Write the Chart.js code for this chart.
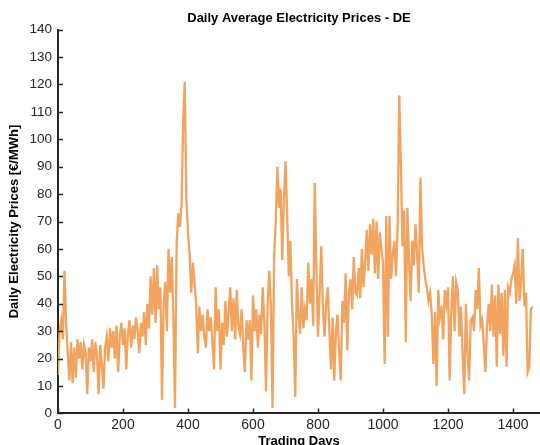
<!DOCTYPE html>
<html>
<head>
<meta charset="utf-8">
<title>Daily Average Electricity Prices - DE</title>
<script src="https://cdn.jsdelivr.net/npm/chart.js@4"></script>
<style>
  html, body { margin: 0; padding: 0; background: #fff; }
  #priceChart { display: block; }
</style>
</head>
<body>
<canvas id="priceChart" width="540" height="445"></canvas>
<script>
const dayStep = 5;
const prices = [
    14, 30, 34, 27, 52, 33, 22, 12, 26, 11,
    24, 13, 27, 20, 26, 16, 25, 22, 7, 24,
    19, 27, 15, 26, 21, 7, 25, 18, 9, 24,
    28, 19, 31, 24, 30, 20, 32, 15, 28, 33,
    25, 31, 16, 29, 34, 24, 32, 27, 35, 30,
    22, 33, 28, 37, 25, 40, 31, 50, 36, 53,
    33, 54, 38, 46, 5, 40, 48, 30, 60, 44,
    57, 35, 2, 62, 73, 68, 76, 106, 121, 78,
    66, 58, 44, 55, 48, 40, 22, 39, 30, 36,
    28, 24, 38, 30, 35, 26, 16, 46, 30, 38,
    16, 33, 25, 41, 28, 37, 46, 30, 42, 27,
    45, 32, 29, 38, 24, 15, 34, 27, 34, 12,
    43, 30, 38, 24, 36, 29, 46, 33, 8, 40,
    52, 39, 2, 57, 70, 90, 75, 82, 56, 78,
    92, 73, 50, 63, 40, 28, 6, 49, 36, 29,
    46, 31, 38, 34, 55, 40, 49, 32, 84, 53,
    28, 44, 61, 38, 28, 40, 46, 30, 16, 35,
    12, 30, 36, 22, 12, 41, 33, 51, 23, 44,
    49, 38, 57, 44, 43, 53, 42, 60, 46, 55,
    67, 52, 69, 58, 71, 51, 70, 49, 66, 60,
    55, 18, 72, 28, 72, 49, 58, 63, 50, 68,
    116, 90, 61, 74, 26, 75, 56, 41, 63, 54,
    69, 58, 44, 86, 61, 54, 49, 46, 41, 44,
    36, 18, 37, 10, 45, 35, 39, 27, 45, 40,
    46, 12, 37, 50, 30, 48, 45, 28, 39, 21,
    7, 40, 22, 12, 34, 35, 30, 45, 38, 53,
    32, 34, 25, 15, 32, 40, 30, 47, 28, 43,
    17, 47, 29, 44, 21, 45, 17, 46, 44, 49,
    51, 54, 40, 64, 41, 49, 60, 39, 44, 15,
    17, 38, 39
];
const dayTicks = [0, 200, 400, 600, 800, 1000, 1200, 1400];
const priceTicks = [0, 10, 20, 30, 40, 50, 60, 70, 80, 90, 100, 110, 120, 130, 140];

const axisColor = '#262626';
const fontFamily = '"Liberation Sans", Arial, Helvetica, sans-serif';

// matlab-style ticks pointing into the plot
const inwardTicks = {
    id: 'inwardTicks',
    afterDraw(chart) {
        const { ctx, chartArea, scales } = chart;
        ctx.save();
        ctx.strokeStyle = axisColor;
        ctx.lineWidth = 1.5;
        ctx.beginPath();
        scales.y.ticks.forEach(t => {
            const py = Math.round(scales.y.getPixelForValue(t.value)) + 0.5;
            ctx.moveTo(chartArea.left, py);
            ctx.lineTo(chartArea.left + 5, py);
        });
        scales.x.ticks.forEach(t => {
            const px = Math.round(scales.x.getPixelForValue(t.value)) + 0.5;
            ctx.moveTo(px, chartArea.bottom);
            ctx.lineTo(px, chartArea.bottom - 5);
        });
        ctx.stroke();
        ctx.restore();
    }
};

const ctx = document.getElementById('priceChart').getContext('2d');

const priceChart = new Chart(ctx, {
    type: 'line',
    data: {
        datasets: [{
            label: 'DE',
            data: prices.map((p, i) => ({ x: i * dayStep, y: p })),
            borderColor: 'rgb(242, 163, 94)',
            borderWidth: 2.3,
            pointRadius: 0,
            tension: 0,
            fill: false
        }]
    },
    options: {
        responsive: false,
        animation: false,
        layout: { padding: 0 },
        plugins: {
            legend: { display: false },
            tooltip: { enabled: false },
            title: {
                display: true,
                text: 'Daily Average Electricity Prices - DE',
                color: '#000',
                fullSize: false,
                font: { family: fontFamily, size: 13, weight: 'bold' },
                padding: { top: 11, bottom: 3 }
            }
        },
        scales: {
            x: {
                type: 'linear',
                min: 0,
                max: 1483,
                afterBuildTicks: function(scale) {
                    scale.ticks = dayTicks.map(v => ({ value: v }));
                },
                afterFit: function(scale) {
                    scale.height = 31.6;
                },
                grid: { display: false, drawTicks: false },
                border: { display: true, color: axisColor, width: 2 },
                ticks: {
                    color: axisColor,
                    padding: 3,
                    maxRotation: 0,
                    font: { family: fontFamily, size: 14 },
                    callback: function(value) {
                        return String(value);
                    }
                },
                title: {
                    display: true,
                    text: 'Trading Days',
                    color: '#000',
                    font: { family: fontFamily, size: 13, weight: 'bold' },
                    padding: { top: 0, bottom: -4 }
                }
            },
            y: {
                min: 0,
                max: 140,
                afterBuildTicks: function(scale) {
                    scale.ticks = priceTicks.map(v => ({ value: v }));
                },
                afterFit: function(scale) {
                    scale.width = 58;
                },
                grid: { display: false, drawTicks: false },
                border: { display: true, color: axisColor, width: 2 },
                ticks: {
                    color: axisColor,
                    padding: 6,
                    font: { family: fontFamily, size: 13.5 },
                    callback: function(value) {
                        return String(value);
                    }
                },
                title: {
                    display: true,
                    text: 'Daily Electricity Prices [€/MWh]',
                    color: '#000',
                    font: { family: fontFamily, size: 13, weight: 'bold' },
                    padding: { top: 7, bottom: 0 }
                }
            }
        }
    },
    plugins: [inwardTicks]
});
</script>
</body>
</html>
